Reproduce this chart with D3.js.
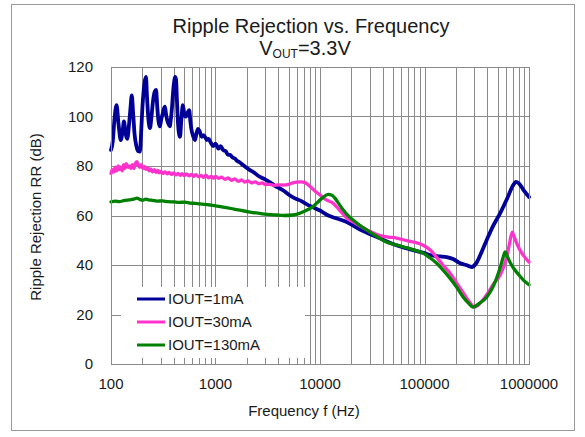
<!DOCTYPE html>
<html><head><meta charset="utf-8">
<script src="https://cdn.jsdelivr.net/npm/d3@7"></script>
<style>body{margin:0;background:#fff}svg{display:block;font-family:"Liberation Sans",Arial,sans-serif}</style>
</head><body>
<svg id="c" width="585" height="437"></svg>
<script>
const titleText = "Ripple Rejection vs. Frequency";
const xTickValues = [100, 1000, 10000, 100000, 1000000];
const xTickLabels = ["100", "1000", "10000", "100000", "1000000"];
const yTickValues = [0, 20, 40, 60, 80, 100, 120];
const seriesNames = ["IOUT=1mA", "IOUT=30mA", "IOUT=130mA"];

const blueFreq = [100,104,108,113,118,124,129,133,138,143,149,154,158,163,168,175,181,189,195,200,205,210,216,221,228,236,244,252,262,270,277,285,294,303,312,320,328,336,345,355,365,374,384,393,402,410,419,428,438,448,458,468,478,485,495,505,515,522,540,560,575,590,612,636,656,680,705,737,770,800,825,860,900,950,1000,1070,1120,1180,1250,1320,1380,1450,1530,1620,1700,1830,1950,2100,2250,2400,2500,2700,3000,3300,3700,4100,4500,5000,5700,6500,7500,8600,10000,12000,14000,18000,25000,37000,50000,78000,100000,113000,140000,163000,190000,217000,250000,283000,310000,350000,393000,450000,530000,620000,700000,750000,800000,880000,1000000];
const blueRR = [86.5,90,99,104.6,97,90.5,94,98,93,91,97,104,108.5,101,93,88,86,85.8,95,104,110,114,116,108,99,95.3,100,106,110,110.7,104,98,96,99,101,103,104,101,98.5,97,96,99,104,110,114,116,115,106,97,93,91.8,97,102,104.6,103,100.5,100,100,101.5,102.6,98,94.5,92,90.5,93,95,94,91.8,92.5,91.5,90.5,91,89.5,88,89,87,88,86.5,86,84.5,84.5,83.5,83,82,81.5,80.4,79.5,78.5,77.8,77,76.4,75.5,74.5,73.5,72,71,70,68.5,67,66,64.5,63.3,62,60,59,57.4,54,50.9,48.5,46,44.8,44,43.5,43.2,42.3,40.8,40,39.2,40.5,45,50,55.5,61,67,72,73.6,73,70.5,67.5];

const pinkFreq = [100,103,106,110,113,117,120,124,128,132,136,140,145,150,155,160,165,171,177,183,189,195,202,209,216,224,232,240,250,260,270,280,290,300,315,330,345,360,380,400,420,440,460,480,500,530,560,590,620,650,690,730,770,810,860,910,960,1000,1070,1150,1230,1320,1420,1530,1650,1780,1900,2050,2200,2400,2600,2800,3000,3300,3600,4000,4500,5000,5500,6000,6600,7200,8000,9000,10000,11500,13300,15500,18000,22000,26000,31000,37000,45000,54000,65000,78000,97000,115000,130000,150000,175000,205000,235000,270000,300000,340000,393000,460000,530000,575000,610000,650000,690000,720000,760000,820000,880000,1000000];
const pinkRR = [77,78.5,77.5,79.5,78,80,78.5,79.5,78,80.5,79,81,79.5,80,79,80.5,79,81,81.8,80,79.5,80.5,79,79.8,78.6,79.2,78,78.8,77.6,78.5,77.4,78.2,77.2,77.8,77,77.6,76.8,77.4,76.6,77.2,76.4,77,76.2,76.9,76.1,76.8,76,76.6,75.8,76.5,75.6,76.2,75.4,76.3,75.2,75.8,75.1,75.8,75,75.5,74.6,75.2,74.2,74.8,73.8,74.4,73.5,74,73.2,73.6,72.8,73.2,72.5,72.6,72.2,72.4,72.3,72.6,73.2,73.5,73.6,73.3,71.8,69.8,68.3,66.3,65,62,59,56.8,55,53.3,52,51.3,50.9,50,49.3,48,45.8,43.2,40,36.8,32.5,28.7,25,23,24.5,27.9,32.5,36,39.5,43,48.5,53.3,51.5,48.9,46,44,41.2];

const greenFreq = [100,110,120,135,150,165,177,190,200,215,230,250,275,310,350,400,450,510,570,640,700,800,900,1030,1180,1500,2130,2800,3860,4500,5500,6500,7500,8500,9300,10500,12000,13000,13900,15000,16700,18500,20700,25000,30000,36000,43000,55000,68000,80000,97000,112000,130000,150000,175000,205000,235000,265000,290000,330000,393000,450000,490000,530000,565000,590000,620000,660000,710000,800000,880000,1000000];
const greenRR = [65.5,65.8,65.6,66.1,66.3,66.6,67,66.4,66.2,66.6,66.3,66.1,65.8,65.9,65.6,65.5,65.3,65.4,65,64.9,64.7,64.5,64.2,63.8,63.4,62.6,61.4,60.7,60.2,60,60.2,61,62.2,63.5,65,67,68.5,68.2,67,65,62.2,60,58.2,55.5,53.3,51.2,49.3,48,46.9,46,44.8,43,40.8,38,34.7,30.8,27,24.5,23,24.3,27,31,34.7,39,43,45.3,43.5,41,38.8,36,34,32];

const colors = ["#000099", "#ff33cc", "#008000"];
const widths = [3.8, 3.3, 3.3];

const svg = d3.select("#c");
const x = d3.scaleLog().domain([100, 1000000]).range([111, 529]);
const y = d3.scaleLinear().domain([0, 120]).range([364, 67]);

// outer frame
svg.append("rect").attr("x", 11.5).attr("y", 4.5).attr("width", 563).attr("height", 426)
  .attr("fill", "#fff").attr("stroke", "#9a9a9a").attr("stroke-width", 1);

// grid
const minorTicks = [];
for (let k = 100; k < 1000000; k *= 10) for (let d = 1; d <= 9; d++) minorTicks.push(k * d);
minorTicks.push(1000000);
const grid = svg.append("g").attr("stroke", "#8a8a8a").attr("stroke-width", 1);
grid.selectAll("line.v").data(minorTicks).join("line")
  .attr("x1", d => Math.round(x(d)) + 0.5).attr("x2", d => Math.round(x(d)) + 0.5)
  .attr("y1", y(120)).attr("y2", y(0));
grid.selectAll("line.h").data(yTickValues).join("line")
  .attr("x1", x(100)).attr("x2", x(1000000))
  .attr("y1", d => Math.round(y(d)) + 0.5).attr("y2", d => Math.round(y(d)) + 0.5);

// curves
const line = d3.line().x(d => x(d[0])).y(d => y(d[1])).curve(d3.curveMonotoneX);
const series = [
  blueFreq.map((f, i) => [f, blueRR[i]]),
  pinkFreq.map((f, i) => [f, pinkRR[i]]),
  greenFreq.map((f, i) => [f, greenRR[i]])
];
[0, 1, 2].forEach(i => {
  svg.append("path").attr("d", line(series[i])).attr("fill", "none")
    .attr("stroke", colors[i]).attr("stroke-width", widths[i])
    .attr("stroke-linejoin", "round").attr("stroke-linecap", "round");
});

// legend background
svg.append("rect").attr("x", 121).attr("y", 287).attr("width", 184).attr("height", 71).attr("fill", "#fff");
const lg = svg.append("g");
seriesNames.forEach((n, i) => {
  const yy = 299 + i * 23;
  lg.append("line").attr("x1", 137).attr("x2", 165).attr("y1", yy).attr("y2", yy)
    .attr("stroke", colors[i]).attr("stroke-width", 3);
  lg.append("text").attr("x", 168).attr("y", yy).attr("dy", "0.36em")
    .attr("font-size", 15).attr("fill", "#1a1a1a").text(n);
});

// inner ticks on bottom axis
svg.append("g").attr("stroke", "#8a8a8a").selectAll("line").data(minorTicks).join("line")
  .attr("x1", d => Math.round(x(d)) + 0.5).attr("x2", d => Math.round(x(d)) + 0.5)
  .attr("y1", y(0) - 6).attr("y2", y(0));
// plot border
svg.append("rect").attr("x", x(100) + 0.5).attr("y", y(120) + 0.5)
  .attr("width", x(1000000) - x(100)).attr("height", y(0) - y(120))
  .attr("fill", "none").attr("stroke", "#8a8a8a");

// axis labels
svg.append("g").selectAll("text").data(xTickValues).join("text")
  .attr("x", d => x(d)).attr("y", 389).attr("text-anchor", "middle")
  .attr("font-size", 15).attr("fill", "#1a1a1a").text((d, i) => xTickLabels[i]);
svg.append("g").selectAll("text").data(yTickValues).join("text")
  .attr("x", 93).attr("y", d => y(d)).attr("dy", "0.36em").attr("text-anchor", "end")
  .attr("font-size", 15).attr("fill", "#1a1a1a").text(d => d);

svg.append("text").attr("x", 304).attr("y", 416).attr("text-anchor", "middle")
  .attr("font-size", 15).attr("fill", "#1a1a1a").text("Frequency f (Hz)");
svg.append("text").attr("transform", "translate(41,217) rotate(-90)").attr("text-anchor", "middle")
  .attr("font-size", 15).attr("fill", "#1a1a1a").text("Ripple Rejection RR (dB)");

// title
svg.append("text").attr("x", 311).attr("y", 33).attr("text-anchor", "middle")
  .attr("font-size", 20).attr("fill", "#1a1a1a").text(titleText);
const sub = svg.append("text").attr("x", 305).attr("y", 55).attr("text-anchor", "middle")
  .attr("font-size", 20).attr("fill", "#1a1a1a");
sub.append("tspan").text("V");
sub.append("tspan").attr("font-size", 12).attr("dy", 3).text("OUT");
sub.append("tspan").attr("dy", -3).text("=3.3V");
</script>
</body></html>
